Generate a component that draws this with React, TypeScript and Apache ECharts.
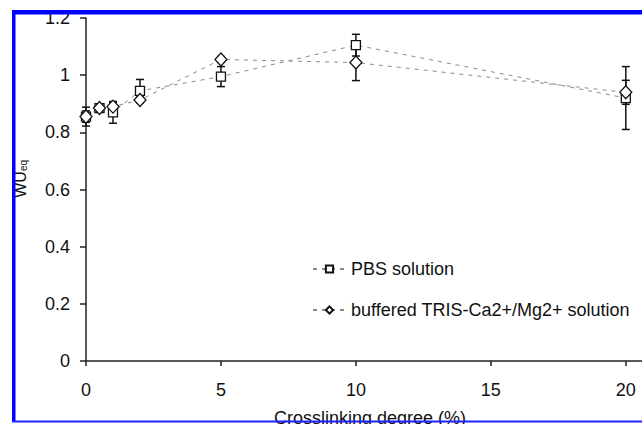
import React, { useEffect, useRef } from "react";
import * as echarts from "echarts";

const xValues = [0, 0.5, 1, 2, 5, 10, 20];
const pbsMean = [0.855, 0.885, 0.87, 0.945, 0.995, 1.105, 0.92];
const pbsErr = [0.033, 0.01, 0.038, 0.04, 0.035, 0.038, 0.11];
const trisMean = [0.855, 0.885, 0.89, 0.913, 1.055, 1.044, 0.94];
const trisErr = [0.02, 0.01, 0.015, 0.01, 0.01, 0.063, 0.042];
const xTicks = [0, 5, 10, 15, 20];
const seriesNames = ["PBS solution", "buffered TRIS-Ca2+/Mg2+ solution"];

export default function App() {
  const ref = useRef<HTMLDivElement>(null);
  useEffect(() => {
    if (!ref.current) return;
    const chart = echarts.init(ref.current, null, { renderer: "svg" });
    const errData = (means: number[], errs: number[]) =>
      xValues.map((x, i) => [x, means[i] - errs[i], means[i] + errs[i]]);
    const errorSeries = (name: string, means: number[], errs: number[]) => ({
      type: "custom",
      name: name + " err",
      data: errData(means, errs),
      z: 1,
      renderItem: (params: any, api: any) => {
        const x = api.value(0);
        const lo = api.coord([x, api.value(1)]);
        const hi = api.coord([x, api.value(2)]);
        const w = 4;
        const style = { stroke: "#111", lineWidth: 1.5 };
        return {
          type: "group",
          children: [
            { type: "line", shape: { x1: lo[0], y1: lo[1], x2: hi[0], y2: hi[1] }, style },
            { type: "line", shape: { x1: lo[0] - w, y1: lo[1], x2: lo[0] + w, y2: lo[1] }, style },
            { type: "line", shape: { x1: hi[0] - w, y1: hi[1], x2: hi[0] + w, y2: hi[1] }, style },
          ],
        };
      },
    });
    const lineSeries = (name: string, means: number[], symbol: string, size: any) => ({
      type: "line",
      name,
      data: xValues.map((x, i) => [x, means[i]]),
      symbol,
      symbolSize: size,
      showAllSymbol: true,
      z: 3,
      lineStyle: { color: "#8a8a8a", width: 1, type: [4, 5] },
      itemStyle: { color: "#fff", borderColor: "#111", borderWidth: 1.3 },
    });
    chart.setOption({
      animation: false,
      backgroundColor: "#fff",
      textStyle: { fontFamily: "Liberation Sans, Arial, sans-serif" },
      grid: { left: 86, right: 0, top: 18, bottom: 63, containLabel: false, outerBoundsMode: "none" },
      xAxis: {
        type: "value",
        min: 0,
        max: 20.6,
        splitLine: { show: false },
        axisLine: { lineStyle: { color: "#222", width: 1.5 } },
        axisTick: { show: true, customValues: xTicks, length: 5, lineStyle: { color: "#222", width: 1.5 } },
        axisLabel: { customValues: xTicks, color: "#111", fontSize: 18, margin: 20 },
        name: "Crosslinking degree (%)",
        nameLocation: "middle",
        nameGap: 48,
        nameTextStyle: { color: "#111", fontSize: 18, padding: [0, 0, 0, 12] },
      },
      yAxis: {
        type: "value",
        min: 0,
        max: 1.2,
        interval: 0.2,
        splitLine: { show: false },
        axisLine: { show: true, lineStyle: { color: "#222", width: 1.5 } },
        axisTick: { show: true, length: 6, lineStyle: { color: "#222", width: 1.5 } },
        axisLabel: { color: "#111", fontSize: 18, margin: 16 },
      },
      legend: {
        data: seriesNames,
        orient: "vertical",
        left: 307,
        top: 255,
        itemWidth: 33,
        itemHeight: 9,
        itemGap: 23,
        textStyle: { color: "#111", fontSize: 18, fontFamily: "Liberation Sans, Arial, sans-serif" },
      },
      graphic: [
        {
          type: "text",
          left: 12,
          top: 160,
          rotation: Math.PI / 2,
          style: {
            text: "{a|WU}{b|eq}",
            rich: {
              a: { fontSize: 16, fill: "#111", fontFamily: "Liberation Sans, Arial" },
              b: { fontSize: 10, fill: "#111", fontFamily: "Liberation Sans, Arial", verticalAlign: "bottom", padding: [7, 0, 0, 0] },
            },
          },
        },
        { type: "rect", z: 100, shape: { x: 12, y: 10, width: 630, height: 4.5 }, style: { fill: "#0000ff" } },
        { type: "rect", z: 100, shape: { x: 12, y: 10, width: 3.5, height: 412 }, style: { fill: "#0000ff" } },
        { type: "rect", z: 100, shape: { x: 12, y: 420.5, width: 630, height: 2 }, style: { fill: "#2020ff" } },
      ],
      series: [
        errorSeries(seriesNames[0], pbsMean, pbsErr),
        errorSeries(seriesNames[1], trisMean, trisErr),
        lineSeries(seriesNames[0], pbsMean, "rect", 9),
        lineSeries(seriesNames[1], trisMean, "diamond", [12, 13]),
      ],
    });
    return () => chart.dispose();
  }, []);
  return (
    <div
      ref={ref}
      style={{ position: "fixed", left: 0, top: 0, width: 642, height: 424, background: "#fff" }}
    />
  );
}
